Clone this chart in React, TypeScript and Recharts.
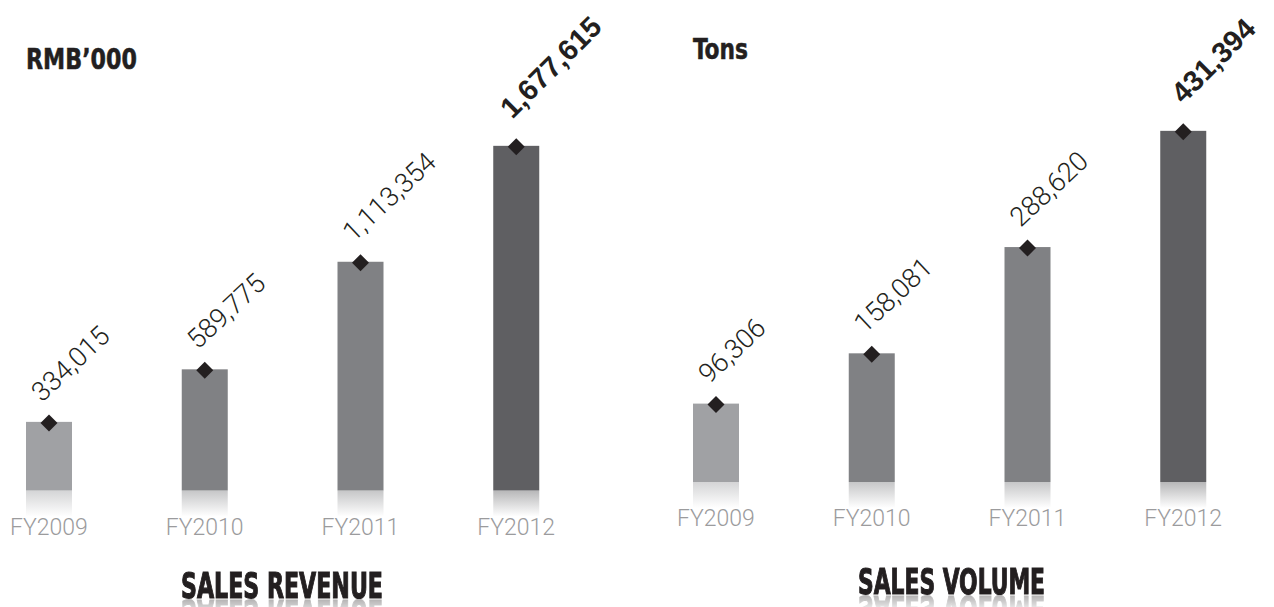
import React from 'react';
import { ComposedChart, Bar, XAxis, YAxis, Cell, LabelList } from 'recharts';

const categories = ['FY2009', 'FY2010', 'FY2011', 'FY2012'];
const revenueValues = [334015, 589775, 1113354, 1677615];
const volumeValues = [96306, 158081, 288620, 431394];
const barColors = ['#a0a1a4', '#808184', '#808184', '#5f5f62'];
const revenueUnit = 'RMB’000';
const volumeUnit = 'Tons';
const revenueTitle = 'SALES REVENUE';
const volumeTitle = 'SALES VOLUME';

const LABEL_FONT = "Roboto, 'Liberation Sans', sans-serif";
const NARROW_FONT = "'Liberation Sans Narrow', 'DejaVu Sans Condensed', 'Liberation Sans', sans-serif";

const fmt = (v: number) => v.toLocaleString('en-US');

function makeShape(prefix: string) {
  return (props: any) => {
    const { x, y, width, height, fill, index } = props;
    const cx = x + width / 2;
    const d = 8.5;
    const gid = `${prefix}-refl-${index}`;
    return (
      <g>
        <defs>
          <linearGradient id={gid} x1="0" y1="0" x2="0" y2="1">
            <stop offset="0%" stopColor={fill} stopOpacity={0.45} />
            <stop offset="100%" stopColor={fill} stopOpacity={0} />
          </linearGradient>
        </defs>
        <rect x={x} y={y} width={width} height={height} fill={fill} />
        <rect x={x} y={y + height} width={width} height={26} fill={`url(#${gid})`} />
        <polygon
          points={`${cx},${y + 1 - d} ${cx + d},${y + 1} ${cx},${y + 1 + d} ${cx - d},${y + 1}`}
          fill="#231f20"
        />
      </g>
    );
  };
}

function makeLabel(lastIndex: number, boldShift: number) {
  return (props: any) => {
    const { x, y, width, value, index } = props;
    const bold = index === lastIndex;
    const tx = x + width / 2 + (bold ? -4 + boldShift : -7);
    const ty = y - (bold ? 26 : 19);
    const angle = bold ? -45 : -43;
    return (
      <text
        x={tx}
        y={ty}
        transform={`rotate(${angle}, ${tx}, ${ty})`}
        textAnchor="start"
        fontFamily={bold ? "'Liberation Sans', Arial, sans-serif" : LABEL_FONT}
        fontWeight={bold ? 700 : 300}
        fontSize={bold ? 29 : 27}
        fill="#231f20"
      >
        {fmt(value)}
      </text>
    );
  };
}

const Tick = (props: any) => {
  const { x, y, payload } = props;
  return (
    <text
      x={x}
      y={y + 44}
      textAnchor="middle"
      fontFamily={LABEL_FONT}
      fontWeight={300}
      fontSize={23}
      fill="#9b9b9d"
    >
      {payload.value}
    </text>
  );
};

type PanelProps = {
  prefix: string;
  values: number[];
  left: number;
  plotWidth: number;
  marginTop: number;
  marginBottom: number;
  yMax: number;
  boldShift: number;
};

function Panel({ prefix, values, left, plotWidth, marginTop, marginBottom, yMax, boldShift }: PanelProps) {
  const data = categories.map((c, i) => ({ cat: c, value: values[i] }));
  const width = plotWidth + 80;
  return (
    <div style={{ position: 'absolute', left, top: 0 }}>
      <ComposedChart
        width={width}
        height={607}
        data={data}
        margin={{ top: marginTop, bottom: marginBottom, left: 0, right: 80 }}
        style={{ overflow: 'visible' }}
      >
        <XAxis
          dataKey="cat"
          axisLine={false}
          tickLine={false}
          tickSize={0}
          tickMargin={0}
          tick={<Tick />}
          interval={0}
          height={1}
        />
        <YAxis hide domain={[0, yMax]} />
        <Bar dataKey="value" barSize={46} isAnimationActive={false} shape={makeShape(prefix)}>
          {data.map((_, i) => (
            <Cell key={i} fill={barColors[i]} />
          ))}
          <LabelList dataKey="value" content={makeLabel(values.length - 1, boldShift)} />
        </Bar>
      </ComposedChart>
    </div>
  );
}

function Title({ text, x, baseline, width }: { text: string; x: number; baseline: number; width: number }) {
  const h = 34;
  return (
    <svg
      width={width + 10}
      height={h}
      style={{
        position: 'absolute',
        left: x - 2,
        top: baseline - h + 1,
        overflow: 'visible',
        WebkitBoxReflect: 'below 0px linear-gradient(transparent 45%, rgba(0,0,0,0.35))',
      } as any}
    >
      <text
        transform={`translate(2, ${h - 1}) scale(1, 1.2)`}
        fontFamily={NARROW_FONT}
        fontWeight={700}
        fontSize={29}
        fill="#231f20"
        stroke="#231f20"
        strokeWidth={0.9}
        textLength={width}
        lengthAdjust="spacingAndGlyphs"
      >
        {text}
      </text>
    </svg>
  );
}

export default function App() {
  return (
    <div
      style={{
        position: 'absolute',
        left: 0,
        top: 0,
        width: 1274,
        height: 607,
        overflow: 'hidden',
        background: '#ffffff',
      }}
    >
      <Panel
        prefix="rev"
        values={revenueValues}
        left={-29}
        plotWidth={623}
        marginTop={79.6}
        marginBottom={115.5}
        yMax={2000000}
        boldShift={0}
      />
      <Panel
        prefix="vol"
        values={volumeValues}
        left={638}
        plotWidth={623}
        marginTop={75}
        marginBottom={124}
        yMax={500000}
        boldShift={4}
      />
      <svg
        width={1274}
        height={120}
        style={{ position: 'absolute', left: 0, top: 0, pointerEvents: 'none' }}
      >
        <text
          x={26}
          y={69}
          fontFamily={NARROW_FONT}
          fontWeight={700}
          fontSize={28}
          fill="#231f20"
          stroke="#231f20"
          strokeWidth={0.5}
          textLength={111}
          lengthAdjust="spacingAndGlyphs"
        >
          {revenueUnit}
        </text>
        <text
          x={693}
          y={59}
          fontFamily={NARROW_FONT}
          fontWeight={700}
          fontSize={28}
          fill="#231f20"
          stroke="#231f20"
          strokeWidth={0.5}
          textLength={55}
          lengthAdjust="spacingAndGlyphs"
        >
          {volumeUnit}
        </text>
      </svg>
      <Title text={revenueTitle} x={181} baseline={598} width={202} />
      <Title text={volumeTitle} x={858} baseline={594} width={187} />
    </div>
  );
}
